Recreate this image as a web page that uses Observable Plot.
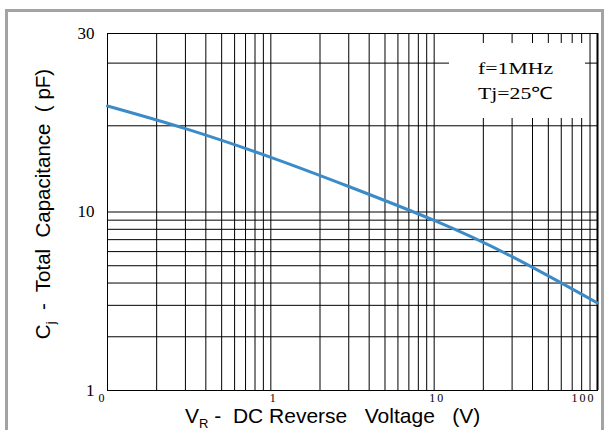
<!DOCTYPE html>
<html>
<head>
<meta charset="utf-8">
<script src="https://cdn.jsdelivr.net/npm/d3@7"></script>
<script src="https://cdn.jsdelivr.net/npm/@observablehq/plot@0.6"></script>
<style>
  html, body { margin: 0; padding: 0; background: #fff; }
  #wrap { position: relative; width: 606px; height: 430px; overflow: hidden; background: #fff; }
  #border { position: absolute; left: 5px; top: 9px; width: 599px; height: 440px; box-sizing: border-box; border: 3px solid #a3a3a3; pointer-events: none; }
  .lbl { position: absolute; font-family: "Liberation Sans", Arial, sans-serif; font-size: 20.5px; line-height: 1; white-space: pre; color: #000; }
  .lbl sub { font-size: 13px; vertical-align: -5px; line-height: 0; }
  #xlabel { font-size: 21px; }
  #legend { position: absolute; left: 449px; top: 43px; width: 136px; height: 75px; background: #fff; }
  #legend div { position: absolute; left: 29px; font-family: "Liberation Serif", "Times New Roman", serif; font-size: 17px; line-height: 1; white-space: nowrap; transform: scaleX(1.28); transform-origin: 0 0; color: #000; }
</style>
</head>
<body>
<div id="wrap"></div>
<script>
// ---- data ----
const voltage = [0.1, 0.3, 1, 3, 10, 30, 100];
const capacitance = [19.2, 16.7, 14.0, 11.7, 8.97, 5.62, 3.09];

const xGrid = [0.1,0.2,0.3,0.4,0.5,0.6,0.7,0.8,0.9,1,2,3,4,5,6,7,8,9,10,20,30,40,50,60,70,80,90,100];
const yGrid = [1,2,3,4,5,6,7,8,9,10,17,25,30];
const yTicks = [1, 10, 30];
const yTickLabels = ["1", "10", "30"];
const xTickValues = [0.1, 1, 10, 100];
const xTickLabels = ["0", "1", "10", "100"];

const legendLines = ["f=1MHz", "Tj=25℃"];
const yLabelHTML = "C<sub>j</sub>  -  Total  Capacitance  ( pF)";
const xLabelHTML = "V<sub>R</sub> -  DC Reverse   Voltage   (V)";

const points = voltage.map((v, i) => ({v, c: capacitance[i]}));
const xFmt = d => xTickLabels[xTickValues.indexOf(d)];
const yFmt = d => yTickLabels[yTicks.indexOf(d)];

const tickFont = {fontFamily: "Liberation Serif", fill: "#000"};

const chart = Plot.plot({
  width: 606,
  height: 430,
  marginLeft: 107,
  marginRight: 9,
  marginTop: 33,
  marginBottom: 40,
  style: {background: "transparent", fontFamily: "Liberation Serif", color: "#000"},
  x: {type: "log", domain: [0.1, 100]},
  y: {type: "log", domain: [1, 10, 30]},
  marks: [
    Plot.gridX(xGrid, {stroke: "#000", strokeOpacity: 1, strokeWidth: 1}),
    Plot.gridY(yGrid, {stroke: "#000", strokeOpacity: 1, strokeWidth: 1}),
    Plot.frame({stroke: "#000", strokeWidth: 1}),
    Plot.ruleX([100], {stroke: "#000", strokeWidth: 2}),
    Plot.line(points, {x: "v", y: "c", stroke: "#3b8bc9", strokeWidth: 3, curve: "natural"}),
    Plot.axisY(yTicks, {tickSize: 0, tickPadding: 13, fontSize: 17, tickFormat: yFmt, label: null, ...tickFont}),
    Plot.axisX([0.1], {tickSize: 0, tickPadding: 3, fontSize: 12, dx: -5, tickFormat: xFmt, label: null, ...tickFont}),
    Plot.axisX([1, 10], {tickSize: 0, tickPadding: 3, fontSize: 12, dx: 3, tickFormat: xFmt, label: null, ...tickFont}),
    Plot.axisX([100], {tickSize: 0, tickPadding: 3, fontSize: 12, dx: -2, textAnchor: "end", tickFormat: xFmt, label: null, ...tickFont})
  ]
});

d3.select(chart).selectAll('g[aria-label="x-axis tick label"] text').attr("letter-spacing", "2");

const wrap = document.getElementById("wrap");
wrap.appendChild(chart);

const legend = document.createElement("div");
legend.id = "legend";
legendLines.forEach((t, i) => {
  const d = document.createElement("div");
  d.textContent = t;
  d.style.top = (17 + i * 25) + "px";
  legend.appendChild(d);
});
wrap.appendChild(legend);

const yl = document.createElement("div");
yl.className = "lbl";
yl.innerHTML = yLabelHTML;
yl.style.left = "43px";
yl.style.top = "204px";
yl.style.transform = "translate(-50%,-50%) rotate(-90deg)";
wrap.appendChild(yl);

const xl = document.createElement("div");
xl.className = "lbl";
xl.id = "xlabel";
xl.innerHTML = xLabelHTML;
xl.style.left = "185px";
xl.style.top = "405px";
wrap.appendChild(xl);

const border = document.createElement("div");
border.id = "border";
wrap.appendChild(border);
</script>
</body>
</html>
